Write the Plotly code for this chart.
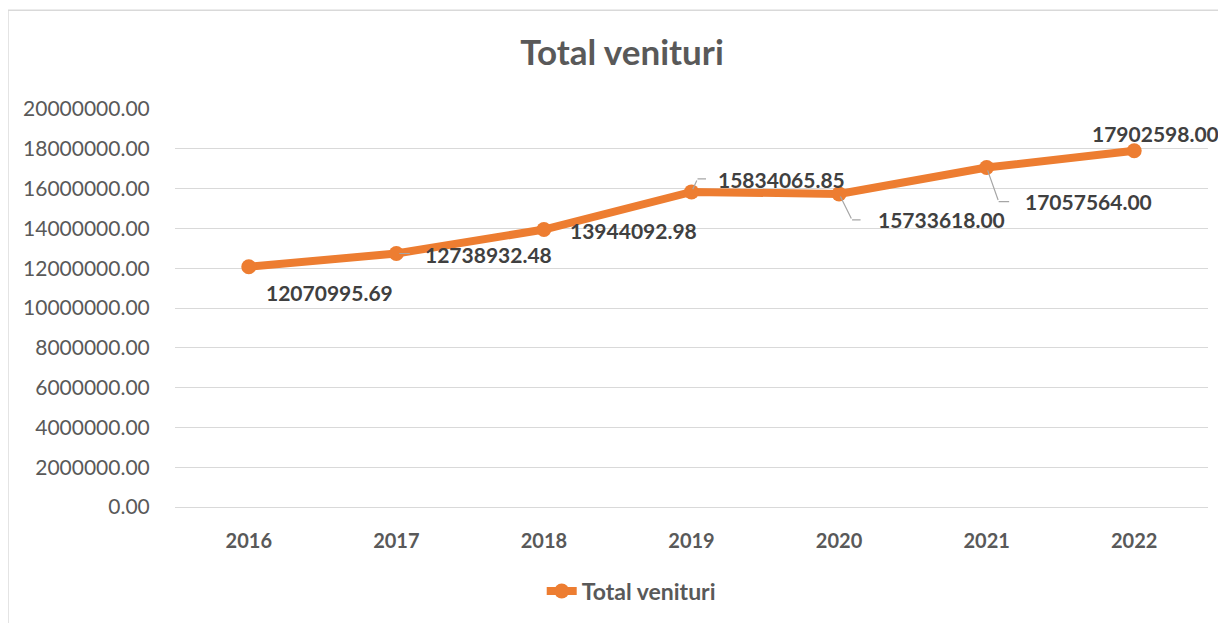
import plotly.graph_objects as go

years = ["2016", "2017", "2018", "2019", "2020", "2021", "2022"]
values = [12070995.69, 12738932.48, 13944092.98, 15834065.85, 15733618.00, 17057564.00, 17902598.00]
series_name = "Total venituri"
title_text = "Total venituri"

# label offsets in pixels (text center relative to point)
label_dx = [81, 92, 90, 90, 102, 102, 21]
label_dy = [26, 1, 1, -12, 26, 34, -17]
# elbow leader lines: elbow offset (pixels, relative to point) and horizontal segment length; None = no leader
leader_elbow = [None, (3, 0), None, (6, -13), (13, 26), (12, 34), None]
leader_len = [0, 12, 0, 10, 10, 12, 0]

ORANGE = "#ED7D31"
GREY = "#a6a6a6"
FONT = "Lato"

fig = go.Figure()
fig.add_trace(go.Scatter(
    x=years, y=values, mode="lines+markers", name=series_name,
    line=dict(color=ORANGE, width=8),
    marker=dict(color=ORANGE, size=15),
))

for i, (yv, dx, dy, el, ln) in enumerate(zip(values, label_dx, label_dy, leader_elbow, leader_len)):
    if el is not None:
        ex, ey = el
        if ex != 0 or ey != 0:
            # segment from point to elbow
            fig.add_annotation(x=i, y=yv, ax=ex, ay=ey, text="", showarrow=True,
                               arrowhead=0, arrowwidth=1.2, arrowcolor=GREY, standoff=3)
        # horizontal segment from elbow
        fig.add_annotation(x=i, y=yv, xshift=ex, yshift=-ey, ax=ln, ay=0, text="",
                           showarrow=True, arrowhead=0, arrowwidth=1.2, arrowcolor=GREY,
                           standoff=0)
    fig.add_annotation(
        x=i, y=yv, xshift=dx, yshift=-dy,
        text=f"{yv:.2f}", showarrow=False,
        font=dict(family=FONT, size=21, color="#404040", weight="bold"),
    )

# chart border
fig.add_shape(type="rect", xref="paper", yref="paper",
              x0=-0.1617, x1=1.2, y0=-0.6, y1=1.248,
              line=dict(color="#d9d9d9", width=1.5), layer="below")

fig.update_layout(
    width=1218, height=615,
    margin=dict(l=167, r=18, t=101, b=115),
    paper_bgcolor="white", plot_bgcolor="white",
    title=dict(text=title_text, x=614 / 1218, xanchor="center", y=1 - 45 / 615, yanchor="middle",
               xref="container", yref="container",
               font=dict(family=FONT, size=35, color="#595959", weight="bold")),
    showlegend=True,
    legend=dict(orientation="h", x=0.355, xanchor="left", y=-0.208, yanchor="middle",
                font=dict(family=FONT, size=23, color="#595959", weight="bold")),
    xaxis=dict(type="category", showgrid=False, showline=False,
               ticks="outside", ticklen=16, tickcolor="rgba(0,0,0,0)",
               tickfont=dict(family=FONT, size=20, color="#595959", weight="bold"),
               range=[-0.5, 6.5]),
    yaxis=dict(range=[0, 20000000], dtick=2000000, tickformat=".2f",
               showgrid=True, gridcolor="#d9d9d9", gridwidth=1, zeroline=True,
               zerolinecolor="#d9d9d9", zerolinewidth=1,
               tickfont=dict(family=FONT, size=21, color="#595959"),
               ticks="outside", ticklen=20, tickcolor="rgba(0,0,0,0)"),
)

fig.write_html("out.html")
